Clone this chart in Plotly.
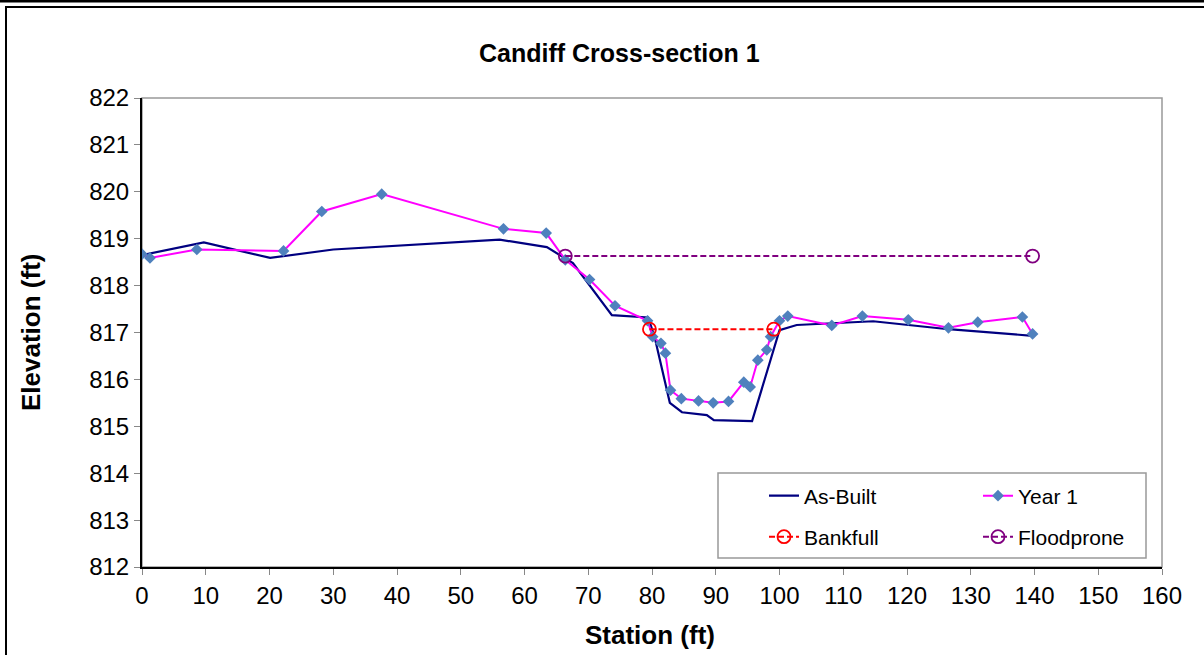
import plotly.graph_objects as go

# ---- data ----
asbuilt_station = [0, 9.7, 20.1, 30.0, 56.1, 63.5, 67.6, 73.7, 79.4, 80.4, 82.8, 84.7, 88.6, 89.7,
                   95.7, 100.0, 102.7, 114.7, 126.5, 139.7]
asbuilt_elev = [818.65, 818.92, 818.59, 818.77, 818.98, 818.82, 818.48, 817.37, 817.32, 816.91, 815.50,
                815.30, 815.24, 815.13, 815.11, 817.05, 817.16, 817.24, 817.07, 816.93]

year1_station = [0, 1.25, 8.6, 22.2, 28.2, 37.6, 56.7, 63.4, 66.4, 70.2, 74.2, 79.3, 80.1, 81.4, 82.1,
                 82.9, 84.6, 87.3, 89.6, 92.0, 94.4, 95.4, 96.6, 98.0, 98.6, 100.0, 101.3, 108.2,
                 113.0, 120.2, 126.5, 131.1, 138.1, 139.7]
year1_elev = [818.67, 818.59, 818.77, 818.74, 819.58, 819.95, 819.21, 819.12, 818.55, 818.13, 817.57,
              817.25, 816.91, 816.77, 816.56, 815.77, 815.59, 815.54, 815.50, 815.53, 815.94, 815.84,
              816.41, 816.63, 816.91, 817.25, 817.35, 817.15, 817.35, 817.27, 817.10, 817.22, 817.33,
              816.97]

bankfull_station = [79.6, 99.1]
bankfull_elev = [817.07, 817.07]

floodprone_station = [66.4, 139.7]
floodprone_elev = [818.63, 818.63]

title_text = "Candiff Cross-section 1"
x_title = "Station (ft)"
y_title = "Elevation (ft)"

FONT = "Arial, 'Liberation Sans', sans-serif"

W, H = 1204, 655
PL, PR, PT, PB = 142, 1162, 98, 567  # plot area in pixels
L, T = PL, PT
R, B = W - PR, H - PB
PW = PR - PL
PH = PB - PT


def px(xp):
    return (xp - PL) / PW


def py(yp):
    return (PB - yp) / PH


fig = go.Figure()

fig.add_trace(go.Scatter(
    x=asbuilt_station, y=asbuilt_elev, mode="lines", name="As-Built",
    line=dict(color="#000080", width=2.2), legend="legend"))
fig.add_trace(go.Scatter(
    x=year1_station, y=year1_elev, mode="lines+markers", name="Year 1",
    line=dict(color="#FF00FF", width=2),
    marker=dict(symbol="diamond", size=9, color="#4F81BD"), legend="legend"))
fig.add_trace(go.Scatter(
    x=bankfull_station, y=bankfull_elev, mode="lines+markers", name="Bankfull",
    line=dict(color="#FF0000", width=2, dash="6px,3px"),
    marker=dict(symbol="circle-open", size=13, color="#FF0000", line=dict(width=1.8)),
    legend="legend2"))
fig.add_trace(go.Scatter(
    x=floodprone_station, y=floodprone_elev, mode="lines+markers", name="Floodprone",
    line=dict(color="#800080", width=2, dash="6px,3px"),
    marker=dict(symbol="circle-open", size=13, color="#800080", line=dict(width=1.8)),
    legend="legend2"))

axis_common = dict(
    showgrid=False, zeroline=False, showline=True, linecolor="black", linewidth=2,
    ticks="outside", ticklen=6, tickcolor="#888888", tickwidth=1,
    tickfont=dict(family=FONT, size=24, color="black"),
)

legend_common = dict(orientation="h", xanchor="left", yanchor="middle",
                     entrywidth=169, font=dict(family=FONT, size=21, color="black"),
                     bgcolor="rgba(0,0,0,0)", borderwidth=0, traceorder="normal")

fig.update_layout(
    width=W, height=H,
    margin=dict(l=L, r=R, t=T, b=B, autoexpand=False),
    paper_bgcolor="white", plot_bgcolor="white",
    xaxis=dict(range=[0, 160], dtick=10, tick0=0, **axis_common),
    yaxis=dict(range=[812, 822], dtick=1, tick0=812, **axis_common),
    showlegend=True,
    legend=dict(x=px(764), y=py(496), **legend_common),
    legend2=dict(x=px(764), y=py(537), **legend_common),
    shapes=[
        # plot area frame (gray top/right)
        dict(type="rect", xref="paper", yref="paper", x0=0, x1=1, y0=0, y1=1,
             line=dict(color="#999999", width=1.5), layer="below"),
        # legend box
        dict(type="rect", xref="paper", yref="paper", x0=px(718), x1=px(1146), y0=py(558), y1=py(473),
             line=dict(color="#999999", width=1.5), fillcolor="white", layer="below"),
        # outer chart border
        dict(type="rect", xref="paper", yref="paper", x0=px(6), x1=px(1215), y0=py(665), y1=py(7),
             line=dict(color="black", width=2)),
        # top thick line
        dict(type="line", xref="paper", yref="paper", x0=px(-5), x1=px(1215), y0=py(1), y1=py(1),
             line=dict(color="black", width=3)),
    ],
    annotations=[
        dict(text=title_text, xref="paper", yref="paper", x=px(619), y=py(53),
             xanchor="center", yanchor="middle", showarrow=False,
             font=dict(family=FONT, size=25, color="black", weight="bold")),
        dict(text=x_title, xref="paper", yref="paper", x=px(650), y=py(635),
             xanchor="center", yanchor="middle", showarrow=False,
             font=dict(family=FONT, size=26, color="black", weight="bold")),
        dict(text=y_title, xref="paper", yref="paper", x=px(31), y=py(333),
             xanchor="center", yanchor="middle", showarrow=False, textangle=-90,
             font=dict(family=FONT, size=26, color="black", weight="bold")),
    ],
)

fig.write_html("out.html",
               config={"displayModeBar": False},
               post_script="document.body.style.margin='0';document.body.style.overflow='hidden';")
